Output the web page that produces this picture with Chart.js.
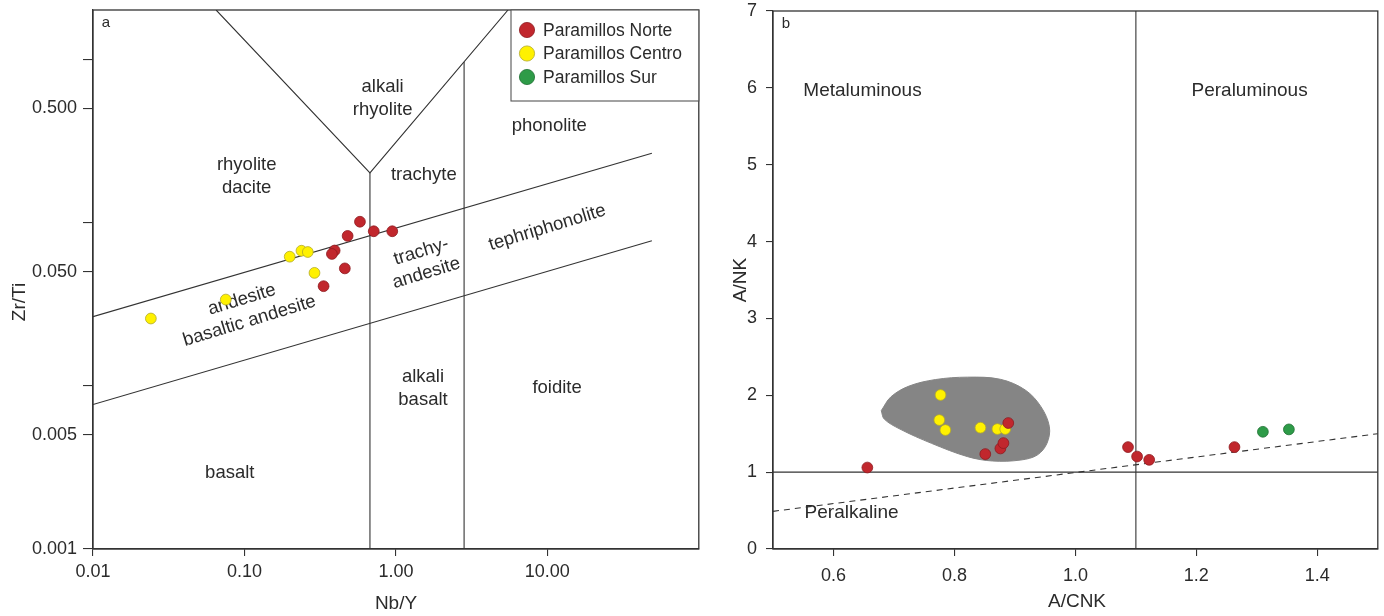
<!DOCTYPE html>
<html><head><meta charset="utf-8">
<script src="https://cdn.jsdelivr.net/npm/chart.js@4.4.1/dist/chart.umd.min.js"></script>
<style>
html,body{margin:0;padding:0;background:#fff;width:1384px;height:616px;overflow:hidden}
#wa{position:absolute;left:0;top:0;width:705px;height:616px}
#wb{position:absolute;left:705px;top:0;width:679px;height:616px}
</style></head><body>
<div id="wa"><canvas id="ca"></canvas></div>
<div id="wb"><canvas id="cb"></canvas></div>
<script>
// ---------- series ----------
const seriesNames = ['Paramillos Norte', 'Paramillos Centro', 'Paramillos Sur'];
const seriesColors = ['#C1272D', '#FFF100', '#2E9B48'];
const seriesBorders = ['#8E1B1F', '#B3A92A', '#1F7034'];

// panel a : Nb/Y vs Zr/Ti
const nbY_norte  = [0.579, 0.480, 0.714, 0.946, 0.394, 0.378, 0.460, 0.333];
const zrTi_norte = [0.101, 0.0827, 0.0883, 0.0883, 0.0673, 0.0641, 0.0523, 0.0407];
const nbY_centro  = [0.0241, 0.0753, 0.199, 0.238, 0.262, 0.290];
const zrTi_centro = [0.0258, 0.0337, 0.0617, 0.0671, 0.0659, 0.0491];
const nbY_sur  = [];
const zrTi_sur = [];

// panel b : A/CNK vs A/NK
const acnk_norte = [0.656, 0.851, 0.876, 0.881, 0.889, 1.087, 1.102, 1.122, 1.263];
const ank_norte  = [1.06, 1.235, 1.308, 1.378, 1.639, 1.326, 1.203, 1.16, 1.326];
const acnk_centro = [0.777, 0.775, 0.785, 0.843, 0.871, 0.884];
const ank_centro  = [2.004, 1.678, 1.548, 1.578, 1.561, 1.561];
const acnk_sur = [1.310, 1.353];
const ank_sur  = [1.525, 1.556];

// ---------- field boundaries ----------
const bndA_vee_x = [0.065, 0.674, 5.5];   const bndA_vee_y = [2, 0.201, 2];
const bndA_v1_x  = [0.674, 0.674];        const bndA_v1_y  = [0.201, 0.001];
const bndA_v2_x  = [2.82, 2.82];          const bndA_v2_y  = [0.96, 0.001];
const bndA_up_x  = [0.01, 49];            const bndA_up_y  = [0.0265, 0.265];
const bndA_lo_x  = [0.01, 49];            const bndA_lo_y  = [0.00767, 0.0773];

const bndB_v_x  = [1.1, 1.1];  const bndB_v_y  = [0, 7];
const bndB_h_x  = [0.5, 1.5];  const bndB_h_y  = [1, 1];
const bndB_pk_x = [0.5, 1.5];  const bndB_pk_y = [0.49, 1.50];
const blob_x = [0.679, 0.695, 0.725, 0.769, 0.822, 0.876, 0.917, 0.943, 0.957, 0.953, 0.937, 0.910, 0.863, 0.822, 0.762, 0.710, 0.684, 0.679];
const blob_y = [1.800, 1.980, 2.120, 2.205, 2.236, 2.208, 2.069, 1.852, 1.591, 1.375, 1.223, 1.158, 1.145, 1.201, 1.375, 1.560, 1.690, 1.800];

// ---------- ticks ----------
const xTicksA = [0.01, 0.1, 1, 10];
const xTickLabelsA = ['0.01', '0.10', '1.00', '10.00'];
const yTicksA = [0.001, 0.005, 0.01, 0.05, 0.1, 0.5, 1];
const yTickLabelsA = ['0.001', '0.005', '', '0.050', '', '0.500', ''];
const xTicksB = [0.6, 0.8, 1.0, 1.2, 1.4];
const xTickLabelsB = ['0.6', '0.8', '1.0', '1.2', '1.4'];
const yTicksB = [0, 1, 2, 3, 4, 5, 6, 7];
const yTickLabelsB = ['0', '1', '2', '3', '4', '5', '6', '7'];

// ---------- field labels ----------
const fieldLabelsA = [
  {t: 'alkali', x: 0.817, y: 0.676, r: 0},
  {t: 'rhyolite', x: 0.817, y: 0.489, r: 0},
  {t: 'rhyolite', x: 0.1035, y: 0.2255, r: 0},
  {t: 'dacite', x: 0.1035, y: 0.163, r: 0},
  {t: 'trachyte', x: 1.53, y: 0.196, r: 0},
  {t: 'phonolite', x: 10.3, y: 0.392, r: 0},
  {t: 'tephriphonolite', x: 10.0, y: 0.0929, r: -17},
  {t: 'trachy-', x: 1.47, y: 0.0662, r: -17},
  {t: 'andesite', x: 1.59, y: 0.0489, r: -17},
  {t: 'andesite', x: 0.0962, y: 0.0337, r: -17},
  {t: 'basaltic andesite', x: 0.108, y: 0.0249, r: -17},
  {t: 'alkali', x: 1.51, y: 0.0113, r: 0},
  {t: 'basalt', x: 1.51, y: 0.00824, r: 0},
  {t: 'foidite', x: 11.6, y: 0.00975, r: 0},
  {t: 'basalt', x: 0.080, y: 0.00294, r: 0}
];
const fieldLabelsB = [
  {t: 'Metaluminous', x: 0.648, y: 5.96, r: 0},
  {t: 'Peraluminous', x: 1.288, y: 5.96, r: 0},
  {t: 'Peralkaline', x: 0.630, y: 0.468, r: 0}
];

const FONT = "'Liberation Sans', Arial, Helvetica, sans-serif";
const INK = '#2b2b2b';

function pts(xs, ys) { return xs.map((x, i) => ({x: x, y: ys[i]})); }
function txt(ctx, t, x, y, rot, size, align) {
  ctx.save();
  ctx.translate(x, y);
  if (rot) ctx.rotate(rot * Math.PI / 180);
  ctx.font = size + 'px ' + FONT;
  ctx.fillStyle = INK;
  ctx.textAlign = align || 'center';
  ctx.textBaseline = 'middle';
  ctx.fillText(t, 0, 0);
  ctx.restore();
}
function seriesDs(i, xs, ys) {
  return {
    label: seriesNames[i], isSeries: true, order: 0,
    data: pts(xs, ys), showLine: false,
    backgroundColor: seriesColors[i], borderColor: seriesBorders[i],
    borderWidth: 0.8, pointRadius: 5.4, pointHoverRadius: 5.4
  };
}
function lineDs(xs, ys, dash) {
  return {
    type: 'line', order: 1, data: pts(xs, ys), showLine: true, fill: false,
    borderColor: '#333', borderWidth: 1.1, pointRadius: 0, tension: 0,
    borderDash: dash || []
  };
}
function makeScale(type, min, max, ticks, labels, opts) {
  return {
    type: type, min: min, max: max, position: opts.position,
    afterBuildTicks: s => { s.ticks = ticks.map(v => ({value: v})); },
    afterFit: s => {
      if (opts.position === 'left') s.width = opts.size; else s.height = opts.size;
      s.paddingTop = 0; s.paddingBottom = 0; s.paddingLeft = 0; s.paddingRight = 0;
    },
    ticks: {
      autoSkip: false, maxRotation: 0, minRotation: 0, padding: opts.pad, color: INK,
      font: {family: FONT, size: 18},
      callback: (v, i) => labels[i]
    },
    grid: {drawOnChartArea: false, drawTicks: true, tickLength: opts.tl, color: '#333', lineWidth: 1.1},
    border: {display: true, color: '#333', width: 1.2}
  };
}

const framePlugin = {
  id: 'frame',
  beforeDatasetsDraw(chart) {
    const ctx = chart.ctx, a = chart.chartArea, o = chart.options.plugins.frame;
    const xs = chart.scales.x, ys = chart.scales.y;
    (o.fields || []).forEach(f => {
      txt(ctx, f.t, xs.getPixelForValue(f.x), ys.getPixelForValue(f.y), f.r, o.fieldSize, 'center');
    });
    txt(ctx, o.tag, a.left + 13, a.top + 13, 0, 15, 'center');
  },
  afterDatasetsDraw(chart) {
    const ctx = chart.ctx, a = chart.chartArea;
    ctx.save();
    ctx.strokeStyle = '#333'; ctx.lineWidth = 1.3;
    ctx.strokeRect(a.left, a.top, a.right - a.left, a.bottom - a.top);
    ctx.restore();
  },
  afterDraw(chart) {
    const ctx = chart.ctx, a = chart.chartArea, o = chart.options.plugins.frame;
    txt(ctx, o.xTitle, o.xTitlePos[0], o.xTitlePos[1], 0, 19, 'center');
    txt(ctx, o.yTitle, o.yTitlePos[0], o.yTitlePos[1], -90, 19, 'center');
    if (o.legend) {
      const items = chart.data.datasets.filter(d => d.isSeries);
      const bx = o.legend.x, by = a.top, bw = a.right - o.legend.x, bh = o.legend.h;
      ctx.save();
      ctx.fillStyle = '#fff';
      ctx.fillRect(bx, by, bw, bh);
      ctx.strokeStyle = '#555'; ctx.lineWidth = 1.1;
      ctx.strokeRect(bx, by, bw, bh);
      items.forEach((d, i) => {
        const cy = by + 20 + i * 23.5;
        ctx.beginPath();
        ctx.arc(bx + 16, cy, 7.6, 0, Math.PI * 2);
        ctx.fillStyle = d.backgroundColor; ctx.fill();
        ctx.strokeStyle = d.borderColor; ctx.lineWidth = 0.8; ctx.stroke();
        txt(ctx, d.label, bx + 32, cy + 1, 0, 17.5, 'left');
      });
      ctx.restore();
    }
  }
};

const common = {
  responsive: true, maintainAspectRatio: false, animation: false, devicePixelRatio: 1,
  events: []
};

new Chart(document.getElementById('ca'), {
  type: 'scatter',
  data: {
    datasets: [
      seriesDs(0, nbY_norte, zrTi_norte),
      seriesDs(1, nbY_centro, zrTi_centro),
      seriesDs(2, nbY_sur, zrTi_sur),
      lineDs(bndA_vee_x, bndA_vee_y),
      lineDs(bndA_v1_x, bndA_v1_y),
      lineDs(bndA_v2_x, bndA_v2_y),
      lineDs(bndA_up_x, bndA_up_y),
      lineDs(bndA_lo_x, bndA_lo_y)
    ]
  },
  options: Object.assign({}, common, {
    layout: {padding: {left: 0, right: 6, top: 10, bottom: 0}},
    scales: {
      x: makeScale('logarithmic', 0.01, 100, xTicksA, xTickLabelsA, {position: 'bottom', size: 67, pad: 5, tl: 7}),
      y: makeScale('logarithmic', 0.001, 2, yTicksA, yTickLabelsA, {position: 'left', size: 93, pad: 6, tl: 10})
    },
    plugins: {
      legend: {display: false}, tooltip: {enabled: false},
      frame: {
        fields: fieldLabelsA, fieldSize: 18.5, tag: 'a',
        xTitle: 'Nb/Y', xTitlePos: [396, 604],
        yTitle: 'Zr/Ti', yTitlePos: [20, 302],
        legend: {x: 511, h: 91}
      }
    }
  }),
  plugins: [framePlugin]
});

new Chart(document.getElementById('cb'), {
  type: 'scatter',
  data: {
    datasets: [
      seriesDs(0, acnk_norte, ank_norte),
      seriesDs(1, acnk_centro, ank_centro),
      seriesDs(2, acnk_sur, ank_sur),
      lineDs(bndB_v_x, bndB_v_y),
      lineDs(bndB_h_x, bndB_h_y),
      lineDs(bndB_pk_x, bndB_pk_y, [6, 5]),
      {
        type: 'line', order: 2, data: pts(blob_x, blob_y), showLine: true,
        fill: 'shape', backgroundColor: '#858585', borderColor: '#858585',
        borderWidth: 1, pointRadius: 0, tension: 0.35
      }
    ]
  },
  options: Object.assign({}, common, {
    layout: {padding: {left: 0, right: 3.5, top: 11, bottom: 0}},
    scales: {
      x: makeScale('linear', 0.5, 1.5, xTicksB, xTickLabelsB, {position: 'bottom', size: 67, pad: 9, tl: 7}),
      y: makeScale('linear', 0, 7, yTicksB, yTickLabelsB, {position: 'left', size: 68, pad: 9, tl: 7})
    },
    plugins: {
      legend: {display: false}, tooltip: {enabled: false},
      frame: {
        fields: fieldLabelsB, fieldSize: 19, tag: 'b',
        xTitle: 'A/CNK', xTitlePos: [372, 602],
        yTitle: 'A/NK', yTitlePos: [36, 280]
      }
    }
  }),
  plugins: [framePlugin]
});
</script>
</body></html>
